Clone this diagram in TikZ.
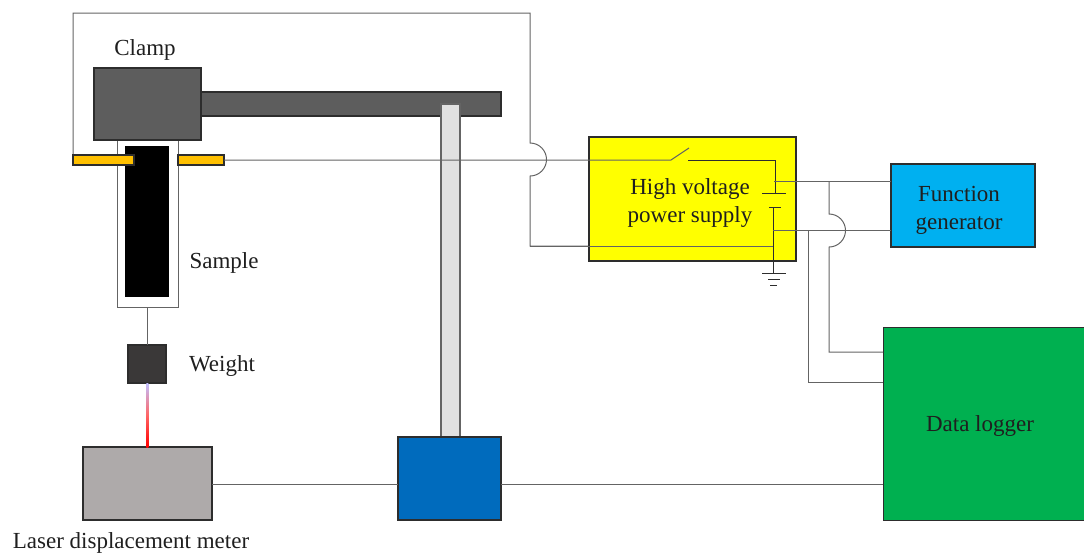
\documentclass[tikz,border=0pt]{standalone}
\usepackage{fontspec}
\setmainfont{Liberation Serif}
\usetikzlibrary{calc}
\definecolor{clampc}{RGB}{93,93,93}
\definecolor{orangec}{RGB}{255,192,0}
\definecolor{postc}{RGB}{225,225,225}
\definecolor{bluec}{RGB}{0,107,189}
\definecolor{laserc}{RGB}{174,170,170}
\definecolor{greenc}{RGB}{0,176,80}
\definecolor{skyc}{RGB}{0,176,240}
\definecolor{weightc}{RGB}{58,56,56}
\definecolor{wirec}{RGB}{100,100,100}
\definecolor{edgec}{RGB}{45,45,45}
\definecolor{yellowc}{RGB}{255,255,0}
\tikzset{
 box/.style={draw=edgec,line width=1.1pt,outer sep=0pt,inner sep=0pt,anchor=north west},
 wire/.style={draw=wirec,line width=1pt},
 darkwire/.style={draw=edgec,line width=0.9pt},
 lbl/.style={font=\fontsize{23}{28}\selectfont,text=black!88,inner sep=0pt,align=center},
}
\newcommand{\bx}[7][]{\node[box,fill=#3,minimum width=#6pt,minimum height=#7pt,#1] (#2) at (#4,#5) {};}
\begin{document}
\begin{tikzpicture}[x=1pt,y=-1pt]
\useasboundingbox (0,0) rectangle (1084,555);
% named wire points
\coordinate (tl) at (73,13);
\coordinate (tlb) at (73,155);
\coordinate (tr) at (530,13);
\coordinate (hopT) at (530,143);
\coordinate (br) at (530,246);
\coordinate (gndJ) at (773,246);
\coordinate (sw1) at (671,160);
\coordinate (sw2) at (689,148);
\coordinate (sw3) at (688,160);
\coordinate (sw4) at (775,160);
\coordinate (p1) at (775,193);
\coordinate (p2) at (773,207);
\coordinate (g0) at (773,273);
\coordinate (j1) at (774,181);
\coordinate (j2) at (773,230);
\coordinate (a1) at (829,181);
\coordinate (a2) at (829,214);
\coordinate (a4) at (829,352);
\coordinate (b1) at (808,230);
\coordinate (b2) at (808,382);
\coordinate (lw) at (212,484);
\coordinate (bw) at (398,484);
\coordinate (be) at (501,484);
\coordinate (le) at (883,484);
% sample holder
\bx[draw=wirec,line width=1pt]{holder}{white}{117}{140}{61}{167}
\bx[draw=black]{film}{black}{126}{147}{42}{149}
% wires behind boxes
\draw[wire] (tlb) -- (tl) -- (tr) -- (hopT) arc[start angle=-90,end angle=90,radius=16.5] -- (br) -- (gndJ);
% yellow supply
\bx{hv}{yellowc}{589}{137}{207}{124}
\draw[wire] (br) -- (gndJ);
% clamp and post
\bx{arm}{clampc}{201}{92}{300}{24}
\bx{clamp}{clampc}{94}{68}{107}{72}
\bx[draw=wirec]{post}{postc}{441}{104}{19}{333}
\bx{base}{bluec}{398}{437}{103}{83}
\bx{laser}{laserc}{83}{447}{129}{73}
\bx[line width=0.8pt]{logger}{greenc}{883}{327}{201}{193}
\bx{fg}{skyc}{891}{164}{144}{83}
\bx{elecL}{orangec}{73}{155}{61}{10}
\bx{elecR}{orangec}{178}{155}{46}{10}
\bx{weight}{weightc}{128}{345}{38}{38}
% connectors
\draw[wire] (elecR.east) -- (sw1) -- (sw2);
\draw[darkwire] (sw3) -- (sw4) -- (p1);
\draw[darkwire] (762,193) coordinate (p1a) -- (786,193) coordinate (p1b);
\draw[darkwire] (769,207) coordinate (p2a) -- (781,207) coordinate (p2b);
\draw[darkwire] (p2) -- (g0);
\draw[darkwire] (762,273) coordinate (g1a) -- (786,273) coordinate (g1b);
\draw[darkwire] (768,279) coordinate (g2a) -- (780,279) coordinate (g2b);
\draw[darkwire] (770,285) coordinate (g3a) -- (777,285) coordinate (g3b);
\draw[wire] (j1) -- (j1 -| fg.west);
\draw[wire] (j2) -- (j2 -| fg.west);
\draw[wire] (a1) -- (a2) arc[start angle=-90,end angle=90,radius=16.5] -- (a4) -- (a4 -| logger.west);
\draw[wire] (b1) -- (b2) -- (b2 -| logger.west);
\draw[wire] (lw) -- (bw);
\draw[wire] (be) -- (le);
\draw[wire] (holder.south -| weight.north) -- (weight.north);
\shade[bottom color=red,top color=blue!25,middle color=red!60!white] ($(weight.south)+(-0.75,0)$) rectangle ($(laser.north)+(0.75,0)$);
% labels
\node[lbl] (tClamp) at (145,50) {Clamp};
\node[lbl] (tSample) at (224,263) {Sample};
\node[lbl] (tWeight) at (222,366) {Weight};
\node[lbl] (tLaser) at (131,543) {Laser displacement meter};
\node[lbl] (tHV) at (690,203) {High voltage\\power supply};
\node[lbl] (tFG) at (959,210) {Function\\generator};
\node[lbl] (tDL) at (980,426) {Data logger};
\end{tikzpicture}
\end{document}
